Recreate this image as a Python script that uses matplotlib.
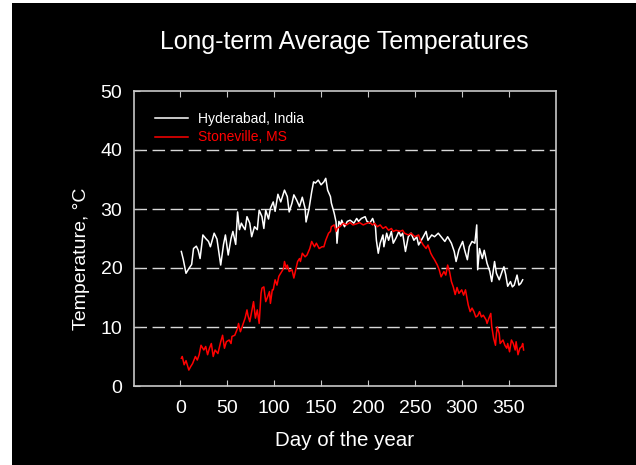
import matplotlib
matplotlib.use("Agg")
import matplotlib.pyplot as plt
from matplotlib.patches import Rectangle

# Daily long-term mean temperatures (day of year, deg C)
hyd_day = [1, 3, 6, 9, 12, 14, 17, 19, 21, 24, 27, 30, 32, 36, 39, 43, 46, 48, 51, 54,
           56, 59, 61, 63, 65, 67, 69, 71, 74, 76, 79, 82, 84, 87, 89, 91, 94, 96, 99, 101,
           104, 107, 111, 114, 116, 119, 121, 124, 127, 130, 133, 134, 137, 140, 142, 144,
           147, 150, 153, 155, 157, 160, 161, 164, 166, 167, 169, 171, 172, 175, 178, 181,
           185, 188, 190, 193, 197, 199, 202, 205, 208, 209, 211, 213, 216, 217, 220, 222,
           225, 227, 230, 233, 235, 237, 240, 243, 246, 249, 252, 254, 259, 262, 264, 268,
           271, 275, 278, 282, 285, 289, 292, 294, 297, 301, 303, 306, 308, 311, 314, 316,
           317, 319, 322, 324, 327, 330, 332, 335, 337, 340, 343, 345, 347, 349, 352, 354,
           356, 359, 361, 363, 365]
hyd_temp = [22.8, 21.5, 19.1, 19.9, 20.6, 23.3, 23.7, 23.0, 21.6, 25.6, 25.0, 24.5, 23.6,
            25.9, 24.9, 20.5, 24.0, 25.6, 22.2, 25.0, 26.2, 24.0, 29.5, 26.5, 27.6, 27.0,
            26.5, 28.7, 27.6, 25.3, 27.0, 26.5, 29.8, 28.7, 26.7, 29.8, 28.3, 30.1, 31.2,
            29.6, 32.5, 31.2, 33.2, 32.1, 29.5, 31.0, 32.4, 31.5, 30.4, 32.0, 30.1, 27.8,
            29.9, 32.9, 34.6, 34.4, 34.9, 34.1, 34.6, 35.2, 33.2, 32.1, 31.0, 29.3, 27.8,
            24.2, 27.9, 27.3, 28.1, 27.0, 27.9, 28.1, 27.6, 28.4, 27.9, 28.4, 28.7, 27.9,
            27.6, 28.4, 27.0, 24.7, 22.5, 24.2, 25.6, 23.6, 25.9, 24.7, 26.2, 24.2, 25.1,
            26.2, 25.4, 25.9, 22.8, 25.3, 25.9, 24.7, 25.3, 23.9, 25.3, 26.2, 24.7, 25.6,
            25.3, 25.9, 25.3, 24.5, 25.3, 24.2, 22.8, 21.1, 23.1, 24.5, 23.1, 21.4, 23.6,
            24.5, 24.2, 27.3, 19.7, 23.3, 21.6, 23.0, 20.8, 19.4, 17.7, 21.1, 19.1, 18.0,
            19.4, 20.2, 18.8, 16.9, 17.7, 16.8, 17.1, 18.8, 17.1, 17.4, 18.0]

stv_day = [1, 2, 4, 6, 9, 11, 13, 16, 18, 20, 22, 25, 27, 29, 31, 33, 35, 37, 40, 43,
           45, 47, 49, 52, 54, 55, 58, 61, 62, 64, 66, 69, 71, 72, 74, 76, 78, 80, 82, 84,
           86, 87, 89, 91, 93, 95, 96, 98, 99, 101, 103, 105, 108, 110, 111, 113, 114, 116,
           119, 121, 123, 125, 127, 128, 130, 133, 135, 138, 140, 143, 145, 148, 151, 153,
           155, 158, 160, 161, 164, 166, 167, 170, 172, 174, 177, 181, 184, 188, 191, 195,
           199, 202, 205, 207, 210, 213, 216, 219, 222, 225, 227, 230, 234, 237, 239, 243,
           246, 250, 254, 256, 259, 262, 264, 267, 269, 271, 274, 276, 278, 281, 283, 285,
           287, 289, 291, 293, 295, 297, 300, 302, 304, 307, 309, 311, 313, 315, 317, 319,
           321, 323, 326, 327, 329, 331, 332, 334, 336, 337, 338, 340, 341, 344, 346, 348,
           349, 351, 353, 355, 357, 358, 360, 362, 364, 365, 366]
stv_temp = [4.7, 5.0, 3.6, 4.3, 2.7, 3.3, 3.8, 5.0, 4.4, 5.3, 6.9, 6.1, 6.7, 5.3, 6.4,
            7.2, 5.0, 6.1, 5.5, 7.5, 8.6, 6.4, 7.5, 7.8, 7.2, 8.4, 8.6, 9.8, 10.6, 9.2,
            10.1, 11.5, 12.9, 12.0, 10.9, 12.6, 14.3, 11.5, 12.9, 10.6, 15.7, 16.6, 16.8,
            14.3, 15.1, 16.0, 14.0, 16.3, 16.3, 18.0, 17.1, 18.6, 19.4, 19.9, 21.1, 19.9,
            20.5, 19.4, 19.7, 18.3, 19.7, 21.1, 21.6, 21.1, 22.5, 21.9, 22.2, 23.3, 24.5,
            23.6, 24.2, 23.3, 23.6, 23.6, 24.7, 25.9, 26.2, 27.0, 27.3, 26.2, 26.7, 27.0,
            27.3, 27.6, 27.3, 27.7, 27.3, 27.5, 27.7, 27.3, 27.6, 27.7, 27.3, 27.6, 27.0,
            27.3, 26.7, 27.0, 26.4, 26.7, 26.2, 26.4, 26.2, 26.4, 25.9, 25.6, 25.9, 25.3,
            25.6, 24.7, 23.9, 23.3, 23.9, 22.5, 21.9, 21.4, 20.5, 19.7, 18.5, 19.4, 18.8,
            20.5, 19.4, 17.7, 16.8, 15.5, 16.7, 15.7, 16.3, 15.4, 16.3, 13.7, 12.6, 13.2,
            12.6, 11.7, 11.9, 12.6, 11.7, 12.0, 11.2, 10.6, 11.5, 12.3, 10.1, 8.1, 6.9,
            8.9, 10.0, 8.9, 7.2, 7.8, 6.9, 6.4, 7.2, 5.8, 7.8, 7.2, 6.1, 7.5, 5.3, 6.4,
            6.7, 7.2, 6.1]

x_ticks = [0, 50, 100, 150, 200, 250, 300, 350]
y_ticks = [0, 10, 20, 30, 40, 50]
grid_levels = [10, 20, 30, 40]

FONT = "Liberation Sans"
FG = "white"
SPINE = "#c8c8c8"

fig = plt.figure(figsize=(6.36, 4.65), dpi=100)
fig.patch.set_facecolor("white")
fig.add_artist(Rectangle((12 / 636, 0), 1 - 12 / 636, 1 - 3 / 465,
                         transform=fig.transFigure, facecolor="black",
                         edgecolor="none", zorder=0))

ax = fig.add_axes([133.5 / 636, 79 / 465, 422 / 636, 295 / 465])
ax.set_facecolor("black")

for lvl in grid_levels:
    ax.axhline(lvl, color="#d8d8d8", lw=1.0, dashes=(9, 4), zorder=1)

ax.plot(hyd_day, hyd_temp, color="white", lw=1.1, label="Hyderabad, India", zorder=3)
ax.plot(stv_day, stv_temp, color="#ff0000", lw=1.1, label="Stoneville, MS", zorder=3)

ax.set_xlim(-50, 400)
ax.set_ylim(0, 50)
ax.set_xticks(x_ticks)
ax.set_yticks(y_ticks)

for s in ax.spines.values():
    s.set_color(SPINE)
    s.set_linewidth(1.2)

ax.tick_params(axis="x", direction="in", top=True, bottom=True, length=4,
               color=SPINE, labelcolor=FG, labelsize=14, pad=10)
ax.tick_params(axis="y", direction="in", left=True, right=False, length=4,
               color=SPINE, labelcolor=FG, labelsize=14, pad=8)
for lab in ax.get_xticklabels() + ax.get_yticklabels():
    lab.set_fontfamily(FONT)

ax.set_xlabel("Day of the year", color=FG, fontsize=14.8, fontfamily=FONT)
ax.xaxis.set_label_coords(0.5, -45 / 295)
ax.set_ylabel("Temperature, \u00b0C", color=FG, fontsize=14, fontfamily=FONT)
ax.yaxis.set_label_coords(-44 / 422, 0.43)
fig.text(344 / 636, 1 - 42 / 465, "Long-term Average Temperatures", color=FG,
         fontsize=17.9, fontfamily=FONT, ha="center", va="center")

leg = ax.legend(loc="upper left", bbox_to_anchor=(21 / 422, 0.928), frameon=False,
                prop={"family": FONT, "size": 10}, handlelength=2.4,
                handletextpad=0.7, labelspacing=0.3, borderaxespad=0.0,
                borderpad=0.0)
for txt, col in zip(leg.get_texts(), ["white", "#ff0000"]):
    txt.set_color(col)

fig.savefig("out.png", dpi=100, facecolor=fig.get_facecolor())
